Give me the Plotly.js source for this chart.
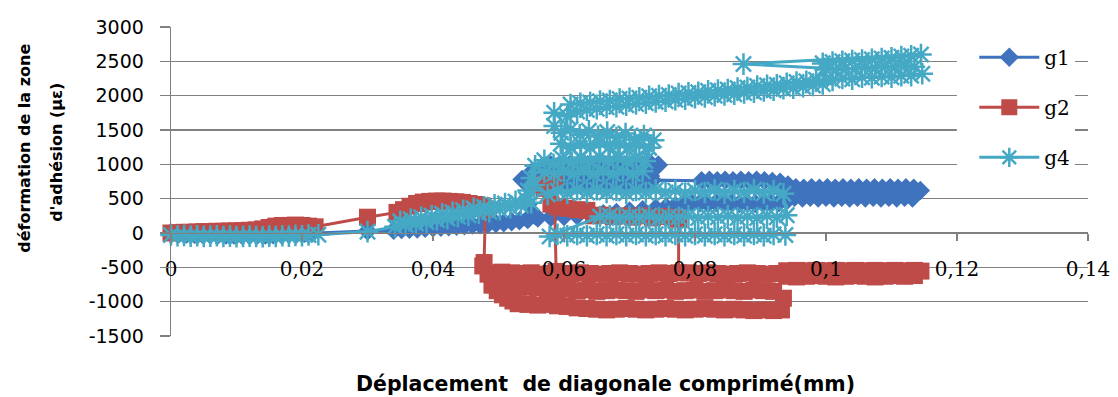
<!DOCTYPE html>
<html>
<head>
<meta charset="utf-8">
<script src="https://cdn.plot.ly/plotly-3.0.1.min.js"></script>
<style>html,body{margin:0;padding:0;background:#fff;}#chart{width:1118px;height:397px;}</style>
</head>
<body>
<div id="chart"></div>
<script>
const seriesNames = ['g1', 'g2', 'g4'];
const xTickVals = [0, 0.02, 0.04, 0.06, 0.08, 0.1, 0.12, 0.14];
const xTickText = ['0', '0,02', '0,04', '0,06', '0,08', '0,1', '0,12', '0,14'];
const yTickVals = [-1500, -1000, -500, 0, 500, 1000, 1500, 2000, 2500, 3000];
const yTickText = ['-1500', '-1000', '-500', '0', '500', '1000', '1500', '2000', '2500', '3000'];

const g1X = [0,0.0012,0.0024,0.0036,0.0048,0.006,0.0072,0.0084,0.0096,0.0108,0.012,0.0132,0.0144,0.0156,0.0168,0.018,0.0192,0.0204,0.0216,
  0.030,
  0.034,0.0352,0.0364,0.0376,0.0388,0.040,0.0412,0.0424,0.0436,0.0448,0.046,0.0472,0.0484,0.0496,0.0508,0.052,0.0532,0.0544,
  0.0556,0.0545,0.0536,
  0.0552,0.0566,0.058,0.0594,0.0608,0.0622,0.0636,0.065,0.0664,0.0678,0.0692,0.0706,0.072,0.0734,0.0744,
  0.0732,0.0718,0.0704,0.069,0.0676,0.0662,0.0648,0.0634,0.062,0.0606,0.0592,0.0578,0.0564,
  0.0555,0.0569,0.0583,0.0597,0.0611,0.0625,0.0639,0.0653,0.0667,0.0681,0.0695,0.0709,0.0723,0.0735,
  0.081,0.0822,0.0834,0.0846,0.0858,0.087,0.0882,0.0894,0.0906,0.0918,0.093,0.0942,
  0.0954,0.0966,0.0978,0.099,0.1002,0.1014,0.1026,0.1038,0.105,0.1062,0.1074,0.1086,0.1098,0.111,0.1122,0.1134,0.1144,
  0.1132,0.112,0.1108,0.1096,0.1084,0.1072,0.106,0.1048,0.1036,0.1024,0.1012,0.100,0.0988,0.0976,0.0964,0.0952,0.094,
  0.0928,0.0916,0.0904,0.0892,0.088,0.0868,0.0856,0.0844,0.0832,0.082,0.0808,0.0796,0.0784,0.077,0.0756,0.074,0.072,0.070,0.068,0.066,0.064,0.062,0.060,0.058,0.056,0.0545];
const g1Y = [0,-10,-15,-20,-20,-25,-25,-30,-30,-30,-35,-30,-30,-25,-20,-15,-10,-5,0,
  30,
  40,50,55,60,70,75,85,90,100,105,115,120,130,140,150,165,180,200,
  250,420,780,
  900,960,990,1000,990,1000,995,1000,990,1000,995,1000,990,995,990,
  830,820,830,820,830,820,830,820,830,820,830,820,800,
  700,690,700,690,700,690,700,690,700,690,700,690,700,770,
  760,770,760,770,760,770,760,770,760,750,740,700,
  660,650,660,650,660,650,660,650,660,650,660,650,660,650,660,650,620,
  510,520,510,520,510,520,510,520,510,520,510,520,510,520,510,520,470,
  440,430,440,430,440,430,440,430,440,430,440,430,420,400,380,360,340,320,300,280,270,250,240,230,220,200];

const g2X = [0,0.001,0.002,0.003,0.004,0.005,0.006,0.007,0.008,0.009,0.010,0.011,0.012,0.013,0.014,0.015,0.016,0.017,0.018,0.019,0.020,0.021,0.022,
  0.030,
  0.0345,0.0355,0.0365,0.0375,0.0385,0.0395,0.0405,0.0415,0.0425,0.0435,0.0445,0.0455,0.0465,0.0475,0.048,
  0.0478,0.0476,0.0484,0.049,0.0498,0.0506,0.0514,0.0522,0.053,
  0.0545,0.056,0.0575,0.059,0.0605,0.062,0.0635,0.065,0.0665,0.068,0.0695,0.071,0.0725,0.074,0.0755,0.077,0.0785,0.080,0.0815,0.083,0.0845,0.086,0.0875,0.089,0.0905,0.092,0.0932,
  0.0935,
  0.092,0.0905,0.089,0.0875,0.086,0.0845,0.083,0.0815,0.080,0.0785,0.077,0.0755,0.074,0.0725,0.071,0.0695,0.068,0.0665,0.065,0.0635,0.062,0.0605,0.059,0.0575,0.056,0.0545,0.053,0.0515,0.050,
  0.049,0.0505,0.052,0.0535,0.055,0.0565,0.058,0.0595,0.061,0.0625,0.064,0.0655,0.067,0.0685,0.070,0.0715,0.073,0.0745,0.076,0.0775,
  0.0775,0.0765,0.075,0.0735,0.072,0.0705,0.069,0.0675,0.066,0.0645,
  0.0635,0.062,0.0605,0.059,0.058,0.057,0.0565,0.0578,0.0585,
  0.0588,
  0.079,0.0805,0.082,0.0835,0.085,0.0865,0.088,0.0895,0.091,0.0925,
  0.094,0.0955,0.097,0.0985,0.100,0.1015,0.103,0.1045,0.106,0.1075,0.109,0.1105,0.112,0.1135,0.1145,
  0.1135,0.112,0.1105,0.109,0.1075,0.106,0.1045,0.103,0.1015,0.100,0.0985,0.097,0.0955,0.094];
const g2Y = [0,5,10,10,15,20,20,25,25,30,30,35,40,45,60,80,100,110,110,115,110,100,90,
  230,
  300,340,390,430,450,460,465,465,460,455,445,430,415,395,350,
  -430,-480,-600,-760,-840,-900,-950,-990,-1030,
  -1040,-1050,-1040,-1060,-1070,-1090,-1100,-1110,-1120,-1110,-1100,-1110,-1120,-1110,-1100,-1110,-1120,-1110,-1100,-1110,-1120,-1110,-1120,-1130,-1120,-1130,-1120,
  -950,
  -850,-840,-830,-850,-840,-830,-840,-850,-830,-840,-850,-830,-840,-830,-850,-840,-830,-840,-850,-830,-840,-820,-830,-810,-800,-790,-760,-720,-680,
  -580,-570,-580,-590,-580,-600,-590,-600,-590,-580,-590,-600,-590,-580,-590,-600,-590,-580,-590,-580,
  200,230,240,220,250,230,250,240,260,250,
  330,340,360,380,420,650,710,740,700,
  -560,
  -580,-590,-580,-590,-600,-590,-580,-590,-600,-590,
  -550,-545,-550,-545,-550,-545,-550,-545,-550,-545,-550,-545,-550,-545,-555,
  -620,-630,-620,-630,-640,-630,-620,-630,-640,-630,-620,-630,-640,-630];

const g4X = [0,0.001,0.002,0.003,0.004,0.005,0.006,0.007,0.008,0.009,0.010,0.011,0.012,0.013,0.014,0.015,0.016,0.017,0.018,0.019,0.020,0.021,0.0225,
  0.030,
  0.0342,0.035,0.0358,0.0366,0.0374,0.0382,0.039,0.0398,0.0406,0.0414,0.0422,0.043,0.0438,0.0446,0.0454,0.0462,0.047,0.0478,0.0486,0.0494,0.0502,0.051,0.0518,0.0526,0.0534,0.0542,0.055,
  0.0545,0.055,0.0556,0.057,0.0584,0.0598,0.0612,0.0626,0.064,0.0654,0.0668,0.0682,0.0696,0.071,0.0724,0.0737,
  0.0722,0.0708,0.0694,0.068,0.0666,0.0652,0.0638,0.0624,0.061,0.0596,0.0585,0.0585,
  0.0605,0.062,0.0635,0.065,0.0665,0.068,0.0695,0.071,0.0725,0.074,0.0755,0.077,0.0785,0.080,0.0815,0.083,0.0845,0.086,0.0875,0.089,0.0905,0.092,0.0935,0.095,0.0965,0.098,0.0995,
  0.101,0.1025,0.104,0.1055,0.107,0.1085,0.110,0.1115,0.113,0.1147,
  0.1135,0.112,0.1105,0.109,0.1075,0.106,0.1045,0.103,0.1015,0.100,
  0.0995,0.101,0.1025,0.104,0.1055,0.107,0.1085,0.110,0.1115,0.113,0.1145,
  0.0874,0.0998,
  0.0985,0.097,0.0955,0.094,0.0925,0.091,0.0895,0.088,0.0865,0.085,0.0835,0.082,0.0805,0.079,0.0775,0.076,0.0745,0.073,0.0715,0.070,0.0685,0.067,0.0655,0.064,0.0625,0.061,
  0.0595,0.061,0.0625,0.064,0.0655,0.067,0.0685,0.070,0.0715,0.073,
  0.072,0.0705,0.069,0.0675,0.066,0.0645,0.063,0.0615,0.060,0.0585,0.057,0.0555,
  0.0575,0.059,0.0605,0.062,0.0635,0.065,0.0665,0.068,0.0695,0.071,0.0725,0.074,0.0755,0.077,0.0785,0.080,0.0815,0.083,0.0845,0.086,0.0875,0.089,0.0905,0.092,0.0935,
  0.094,0.0925,0.091,0.0895,0.088,0.0865,0.085,0.0835,0.082,0.0805,0.079,0.0775,0.076,0.0745,0.073,0.0715,0.070,0.0685,0.067,0.0655,
  0.0578,0.059,0.0605,0.062,0.0635,0.065,0.0665,0.068,0.0695,0.071,0.0725,0.074,0.0755,0.077,0.0785,0.080,0.0815,0.083,0.0845,0.086,0.0875,0.089,0.0905,0.092,0.0938];
const g4Y = [-30,-40,-35,-45,-40,-50,-45,-40,-50,-45,-55,-50,-45,-50,-55,-45,-50,-40,-45,-35,-40,-30,-25,
  20,
  90,170,120,200,140,230,160,250,190,280,210,300,240,330,260,360,290,380,310,410,340,430,370,460,400,490,440,
  620,800,980,1060,1000,1080,1020,1100,1040,1110,1050,1100,1040,1090,1050,1350,
  1420,1360,1450,1390,1470,1410,1490,1430,1510,1460,1560,1750,
  1700,1770,1790,1810,1830,1840,1860,1880,1890,1910,1920,1940,1950,1970,1980,2000,2010,2020,2040,2050,2070,2080,2100,2110,2130,2150,2170,
  2220,2250,2240,2270,2260,2280,2270,2290,2290,2320,
  2420,2440,2410,2430,2400,2420,2390,2400,2370,2380,
  2470,2490,2500,2510,2520,2530,2540,2550,2570,2580,2600,
  2460,2400,
  2230,2210,2200,2180,2160,2150,2140,2120,2110,2090,2080,2070,2050,2040,2030,2010,2000,1990,1970,1960,1950,1930,1920,1900,1890,1870,
  1300,1240,1300,1250,1310,1260,1300,1250,1290,1240,
  900,860,900,860,900,860,900,860,900,860,880,700,
  560,620,580,630,590,630,590,620,580,620,590,630,590,620,580,620,590,630,580,620,590,630,580,620,570,
  260,230,250,220,240,220,250,230,240,220,250,230,240,220,250,230,240,220,250,240,
  -50,-20,-40,-20,-40,-20,-40,-20,-40,-20,-40,-20,-40,-20,-40,-20,-40,-20,-40,-20,-40,-20,-40,-20,-30];

const colors = ['#3F73BD', '#BE4B48', '#45A9C5'];

const traces = [
  {x: g1X, y: g1Y, name: seriesNames[0], legendgroup: 'a', type: 'scatter', mode: 'lines+markers', cliponaxis: false,
   line: {color: colors[0], width: 3}, marker: {symbol: 'diamond', size: 15, color: colors[0], line: {width: 0}}},
  {x: g2X, y: g2Y, name: seriesNames[1], legendgroup: 'b', type: 'scatter', mode: 'lines+markers', cliponaxis: false,
   line: {color: colors[1], width: 3}, marker: {symbol: 'square', size: 17, color: colors[1], line: {width: 0}}},
  {x: g4X, y: g4Y, name: seriesNames[2], legendgroup: 'c', type: 'scatter', mode: 'lines+markers', cliponaxis: false,
   line: {color: colors[2], width: 3}, marker: {symbol: 'asterisk-open', size: 18, color: colors[2], line: {width: 2.5, color: colors[2]}}}
];

const grey = '#808080';
const layout = {
  width: 1118, height: 397,
  margin: {l: 171, r: 30, t: 27, b: 61},
  paper_bgcolor: '#fff', plot_bgcolor: '#fff',
  showlegend: true,
  xaxis: {
    range: [0, 0.14], tickvals: xTickVals, ticktext: xTickText,
    showgrid: false, zeroline: false, showline: true, linecolor: grey, linewidth: 1.3,
    ticks: 'outside', ticklen: 7, tickcolor: grey, tickwidth: 1.3,
    anchor: 'free', position: 1/3, ticklabelstandoff: 11,
    tickfont: {family: 'DejaVu Serif', size: 20, color: '#000'}
  },
  yaxis: {
    range: [-1500, 3000], tickvals: yTickVals, ticktext: yTickText,
    showgrid: true, gridcolor: grey, gridwidth: 1.3, zeroline: false,
    showline: true, linecolor: grey, linewidth: 1.3,
    ticks: 'outside', ticklen: 10, tickcolor: grey, tickwidth: 1.3,
    ticklabelstandoff: 12,
    tickfont: {family: 'DejaVu Sans', size: 19, color: '#000'}
  },
  legend: {
    x: 0.876, y: 0.965, xanchor: 'left', yanchor: 'top',
    bgcolor: '#fff', borderwidth: 0, tracegroupgap: 21, itemwidth: 60,
    font: {family: 'DejaVu Serif', size: 20, color: '#000'}
  },
  shapes: [
    {type: 'rect', xref: 'paper', yref: 'paper', x0: 0.857, x1: 0.88, y0: 0.49, y1: 0.96,
     fillcolor: '#fff', line: {width: 0}, layer: 'above'}
  ],
  annotations: [
    {text: 'Déplacement\u00a0 de diagonale comprimé(mm)', xref: 'paper', yref: 'paper', x: 0.4735, y: -0.154,
     xanchor: 'center', yanchor: 'middle', showarrow: false,
     font: {family: 'DejaVu Sans', size: 20.5, color: '#000', weight: 'bold'}},
    {text: 'déformation de la zone', xref: 'paper', yref: 'paper', x: -0.160, y: 0.607, textangle: -90,
     xanchor: 'center', yanchor: 'middle', showarrow: false,
     font: {family: 'DejaVu Sans', size: 16, color: '#000', weight: 'bold'}},
    {text: "d'adhésion (µε)", xref: 'paper', yref: 'paper', x: -0.125, y: 0.594, textangle: -90,
     xanchor: 'center', yanchor: 'middle', showarrow: false,
     font: {family: 'DejaVu Sans', size: 16, color: '#000', weight: 'bold'}}
  ]
};

Plotly.newPlot('chart', traces, layout, {displayModeBar: false, staticPlot: true});
</script>
</body>
</html>
